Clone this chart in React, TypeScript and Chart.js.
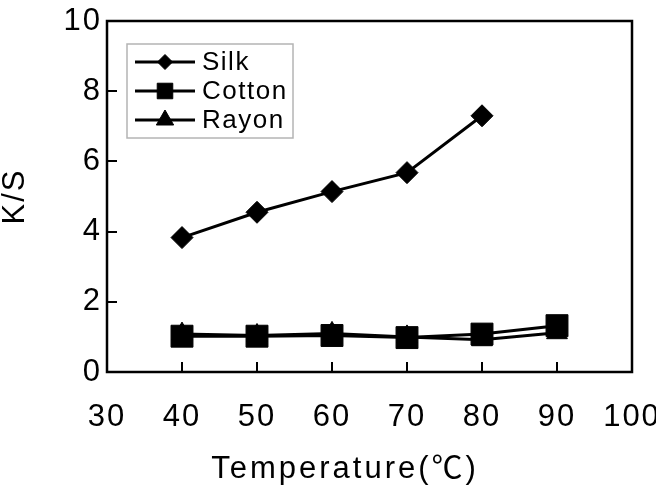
import React, { useEffect, useRef } from 'react';
import { Chart, registerables } from 'chart.js';
import { drawPoint } from 'chart.js/helpers';

Chart.register(...registerables);

// ---- data ----
const temperatures = [40, 50, 60, 70, 80, 90];
const silk: (number | null)[] = [3.83, 4.55, 5.14, 5.68, 7.3, null];
const cotton = [1.02, 1.02, 1.04, 0.98, 1.08, 1.32];
const rayon = [1.08, 1.04, 1.1, 1.0, 0.92, 1.12];
const seriesNames = ['Silk', 'Cotton', 'Rayon'];
const xTickValues = [30, 40, 50, 60, 70, 80, 90, 100];
const yTickValues = [0, 2, 4, 6, 8, 10];
const xTitle = 'Temperature(℃)';
const yTitle = 'K/S';

const FAMILY = "'Liberation Sans', Arial, 'Noto Sans CJK KR', sans-serif";

const toPoints = (vals: (number | null)[]) =>
  temperatures
    .map((t, i) => ({ x: t, y: vals[i] }))
    .filter((p) => p.y !== null && p.y !== undefined);

const spacingPlugin = {
  id: 'spacing',
  beforeDraw(chart: any) {
    chart.ctx.letterSpacing = '2px';
  },
};

const framePlugin = {
  id: 'frame',
  beforeDatasetsDraw(chart: any) {
    const { ctx, chartArea: a } = chart;
    ctx.save();
    ctx.strokeStyle = '#000';
    ctx.lineWidth = 2.5;
    ctx.strokeRect(a.left, a.top, a.right - a.left, a.bottom - a.top);
    ctx.restore();
  },
};

const legendRadii = [7.5, 11, 10];

const boxLegendPlugin = {
  id: 'boxLegend',
  afterDatasetsDraw(chart: any) {
    const { ctx, chartArea: a } = chart;
    const left = a.left + 20;
    const top = a.top + 23;
    const w = 166;
    const h = 94;
    ctx.save();
    ctx.fillStyle = '#fff';
    ctx.fillRect(left, top, w, h);
    ctx.strokeStyle = '#b4b4b4';
    ctx.lineWidth = 1.5;
    ctx.strokeRect(left, top, w, h);
    chart.data.datasets.forEach((ds: any, i: number) => {
      const cy = top + 18 + i * 29;
      ctx.strokeStyle = '#000';
      ctx.fillStyle = '#000';
      ctx.lineWidth = 3;
      ctx.beginPath();
      ctx.moveTo(left + 8, cy);
      ctx.lineTo(left + 68, cy);
      ctx.stroke();
      ctx.lineWidth = 1;
      drawPoint(ctx, { pointStyle: ds.pointStyle, radius: legendRadii[i], borderWidth: 1, rotation: 0 } as any, left + 38, cy);
      ctx.font = `26px ${FAMILY}`;
      (ctx as any).letterSpacing = '1.5px';
      ctx.textAlign = 'left';
      ctx.textBaseline = 'middle';
      ctx.fillText(ds.label, left + 75, cy + 1);
    });
    ctx.restore();
  },
};

const xTitlePlugin = {
  id: 'xTitle',
  afterDraw(chart: any) {
    const { ctx, chartArea: a } = chart;
    ctx.save();
    ctx.font = `31px ${FAMILY}`;
    (ctx as any).letterSpacing = '3px';
    ctx.fillStyle = '#000';
    ctx.textAlign = 'center';
    ctx.textBaseline = 'middle';
    ctx.fillText(xTitle, a.left + 238, a.bottom + 97);
    ctx.restore();
  },
};

export default function App() {
  const ref = useRef<HTMLCanvasElement>(null);

  useEffect(() => {
    document.body.style.margin = '0';
    document.body.style.overflow = 'hidden';
    const canvas = ref.current!;
    const tickFont = { size: 31, family: FAMILY };
    const chart = new Chart(canvas, {
      type: 'line',
      data: {
        datasets: [
          {
            label: seriesNames[0],
            data: toPoints(silk) as any,
            borderColor: '#000',
            backgroundColor: '#000',
            borderWidth: 3,
            pointStyle: 'rectRot',
            pointRadius: 11,
            pointBorderWidth: 1,
          },
          {
            label: seriesNames[1],
            data: toPoints(cotton) as any,
            borderColor: '#000',
            backgroundColor: '#000',
            borderWidth: 3,
            pointStyle: 'rect',
            pointRadius: 15.5,
            pointBorderWidth: 1,
          },
          {
            label: seriesNames[2],
            data: toPoints(rayon) as any,
            borderColor: '#000',
            backgroundColor: '#000',
            borderWidth: 3,
            pointStyle: 'triangle',
            pointRadius: 12,
            pointBorderWidth: 1,
          },
        ],
      },
      options: {
        responsive: false,
        animation: false,
        devicePixelRatio: 1,
        layout: { padding: { top: 21, right: 24, bottom: 0, left: 0 } },
        plugins: {
          legend: { display: false },
          tooltip: { enabled: false },
        },
        scales: {
          x: {
            type: 'linear',
            min: xTickValues[0],
            max: xTickValues[xTickValues.length - 1],
            afterBuildTicks: (s: any) => {
              s.ticks = xTickValues.map((v) => ({ value: v }));
            },
            ticks: { autoSkip: false, maxRotation: 0, color: '#000', font: tickFont, padding: 37 },
            grid: { drawOnChartArea: false, drawTicks: true, tickLength: -10, color: '#000', lineWidth: 2 },
            border: { display: false },
            afterFit: (s: any) => {
              s.height = 120;
              s.paddingLeft = 0;
              s.paddingRight = 0;
            },
          },
          y: {
            type: 'linear',
            min: yTickValues[0],
            max: yTickValues[yTickValues.length - 1],
            afterBuildTicks: (s: any) => {
              s.ticks = yTickValues.map((v) => ({ value: v }));
            },
            ticks: { color: '#000', font: tickFont, padding: 15 },
            grid: { drawOnChartArea: false, drawTicks: true, tickLength: -10, color: '#000', lineWidth: 2 },
            border: { display: false },
            title: {
              display: true,
              text: yTitle,
              color: '#000',
              font: { size: 31, family: FAMILY, lineHeight: 1 },
              padding: 0,
            },
            afterFit: (s: any) => {
              s.width = 107;
              s.paddingTop = 0;
              s.paddingBottom = 0;
            },
          },
        },
      },
      plugins: [spacingPlugin, framePlugin, boxLegendPlugin, xTitlePlugin],
    });
    return () => chart.destroy();
  }, []);

  return (
    <div style={{ width: 656, height: 492 }}>
      <canvas ref={ref} width={656} height={492} style={{ display: 'block' }} />
    </div>
  );
}
